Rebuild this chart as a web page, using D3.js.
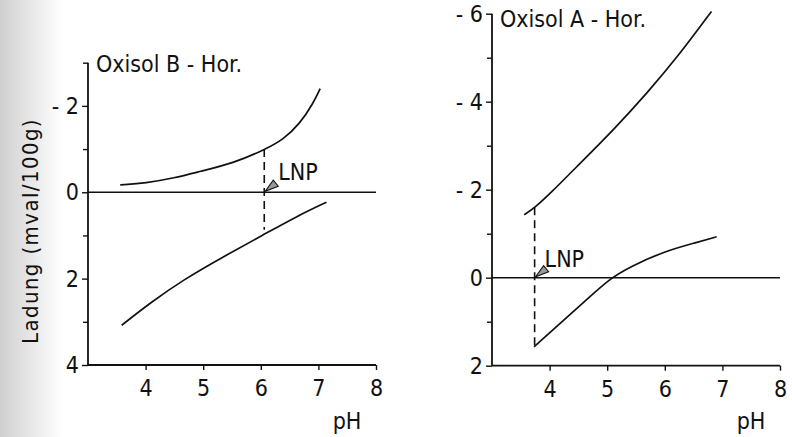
<!DOCTYPE html>
<html>
<head>
<meta charset="utf-8">
<script src="https://cdn.jsdelivr.net/npm/d3@7"></script>
<style>
  body { margin: 0; background: #fff; }
  svg { display: block; }
  text { font-family: "DejaVu Sans", sans-serif; font-stretch: condensed; fill: #111; }
</style>
</head>
<body>
<div id="chart"></div>
<script>
// x ticks (pH)
var phTicks = [4, 5, 6, 7, 8];

// Oxisol B-Hor. (left panel)
var bMajorTicks = [-2, 0, 2, 4];
var bMinorTicks = [-3, -1, 1, 3];
var bUpperPH = [3.56, 4, 4.5, 4.94, 5.52, 6.07, 6.39, 6.68, 6.91, 7.03];
var bUpperQ = [-0.17, -0.21, -0.33, -0.48, -0.67, -0.99, -1.22, -1.59, -2.06, -2.4];
var bLowerPH = [3.585, 4.08, 4.65, 5.35, 6.04, 6.62, 7.14];
var bLowerQ = [3.08, 2.56, 2.03, 1.49, 0.99, 0.56, 0.23];
var bLNP = 6.06;
var bLNPRange = [-1.0, 0.87];

// Oxisol A-Hor. (right panel)
var aMajorTicks = [-6, -4, -2, 0, 2];
var aMinorTicks = [-5, -3, -1, 1];
var aUpperPH = [3.56, 3.75, 4.0, 4.53, 5.11, 5.69, 6.26, 6.81];
var aUpperQ = [-1.43, -1.6, -1.9, -2.6, -3.36, -4.19, -5.08, -6.05];
var aLowerPH = [3.73, 4.24, 4.7, 5.05, 5.4, 5.97, 6.55, 6.9];
var aLowerQ = [1.57, 0.97, 0.43, 0.02, -0.25, -0.59, -0.8, -0.93];
var aLNP = 3.74;
var aLNPRange = [-1.6, 1.57];

var W = 792, H = 437;
var svg = d3.select("#chart").append("svg")
    .attr("width", W)
    .attr("height", H);

// scan shading at left edge
var defs = svg.append("defs");
var grad = defs.append("linearGradient").attr("id", "scan");
grad.append("stop").attr("offset", "0%").attr("stop-color", "#cfcfcf");
grad.append("stop").attr("offset", "60%").attr("stop-color", "#ececec");
grad.append("stop").attr("offset", "100%").attr("stop-color", "#fff");
svg.append("rect").attr("x", 0).attr("y", 0).attr("width", 62).attr("height", H)
    .attr("fill", "url(#scan)");

function tickLabel(v) {
  return v < 0 ? "- " + Math.abs(v) : String(v);
}

function drawPanel(p) {
  var x = d3.scaleLinear().domain([3, 8]).range(p.xRange);
  var y = d3.scaleLinear().domain(p.yDomain).range(p.yRange);
  var g = svg.append("g");

  // y axis
  var yAxis = g.append("g")
      .attr("transform", "translate(" + p.xRange[0] + ",0)")
      .call(d3.axisLeft(y).tickValues(p.major).tickFormat(tickLabel).tickSize(6).tickPadding(3));
  g.append("g")
      .attr("transform", "translate(" + p.xRange[0] + ",0)")
      .call(d3.axisLeft(y).tickValues(p.minor).tickFormat("").tickSize(5))
      .select(".domain").remove();

  // x axis
  var xAxis = g.append("g")
      .attr("transform", "translate(0," + p.yRange[1] + ")")
      .call(d3.axisBottom(x).tickValues(phTicks).tickFormat(d3.format("d")).tickSize(5).tickPadding(10));

  g.selectAll(".domain").attr("stroke", "#111").attr("stroke-width", 1.8);
  g.selectAll(".tick line").attr("stroke", "#111").attr("stroke-width", 1.4);
  g.selectAll(".tick text").style("font-size", "23px")
      .style("font-family", '"DejaVu Sans", sans-serif')
      .style("font-stretch", "condensed").attr("fill", "#111");
  yAxis.select(".domain").attr("d", "M0," + p.yRange[0] + "V" + p.yRange[1]);
  xAxis.select(".domain").attr("d", "M" + p.xRange[0] + ",0H" + p.xRange[1]);

  // zero line
  g.append("line")
      .attr("x1", x(3)).attr("x2", x(8))
      .attr("y1", y(0)).attr("y2", y(0))
      .attr("stroke", "#111").attr("stroke-width", 1.6);

  var line = d3.line()
      .x(function(d) { return x(d[0]); })
      .y(function(d) { return y(d[1]); })
      .curve(d3.curveBasis);

  [[p.upperPH, p.upperQ], [p.lowerPH, p.lowerQ]].forEach(function(s) {
    g.append("path")
        .datum(d3.zip(s[0], s[1]))
        .attr("d", line)
        .attr("fill", "none")
        .attr("stroke", "#111")
        .attr("stroke-width", 1.7);
  });

  // LNP dashed line
  g.append("line")
      .attr("x1", x(p.lnp)).attr("x2", x(p.lnp))
      .attr("y1", y(p.lnpRange[0])).attr("y2", y(p.lnpRange[1]))
      .attr("stroke", "#111").attr("stroke-width", 1.6)
      .attr("stroke-dasharray", "8,5");

  // LNP arrow head
  var ax = x(p.lnp) + 1, ay = y(0) - 1;
  g.append("path")
      .attr("d", "M" + ax + "," + ay + "L" + (ax + 8) + "," + (ay - 11) + "L" + (ax + 13) + "," + (ay - 5) + "Z")
      .attr("fill", "#999").attr("stroke", "#111").attr("stroke-width", 1.1);
  g.append("text")
      .attr("x", x(p.lnp) + p.lnpDx)
      .attr("y", y(0) + p.lnpDy)
      .style("font-size", "23px")
      .text("LNP");

  // title
  g.append("text")
      .attr("x", p.xRange[0] + 8)
      .attr("y", p.titleY)
      .style("font-size", "23px")
      .text(p.title);

  // x label
  g.append("text")
      .attr("x", p.xRange[1] - 29)
      .attr("y", 429)
      .attr("text-anchor", "middle")
      .style("font-size", "23px")
      .text("pH");
}

drawPanel({
  xRange: [88, 376], yDomain: [-3, 4], yRange: [62.7, 365],
  major: bMajorTicks, minor: bMinorTicks,
  upperPH: bUpperPH, upperQ: bUpperQ, lowerPH: bLowerPH, lowerQ: bLowerQ,
  lnp: bLNP, lnpRange: bLNPRange, lnpDx: 14, lnpDy: -12,
  title: "Oxisol B - Hor.", titleY: 72
});

drawPanel({
  xRange: [492, 780], yDomain: [-6, 2], yRange: [13.7, 365.7],
  major: aMajorTicks, minor: aMinorTicks,
  upperPH: aUpperPH, upperQ: aUpperQ, lowerPH: aLowerPH, lowerQ: aLowerQ,
  lnp: aLNP, lnpRange: aLNPRange, lnpDx: 10, lnpDy: -11,
  title: "Oxisol A - Hor.", titleY: 27
});

// y axis title
svg.append("text")
    .attr("transform", "translate(38,231) rotate(-90)")
    .attr("text-anchor", "middle")
    .style("font-size", "22px")
    .style("letter-spacing", "1.4px")
    .text("Ladung (mval/100g)");
</script>
</body>
</html>
